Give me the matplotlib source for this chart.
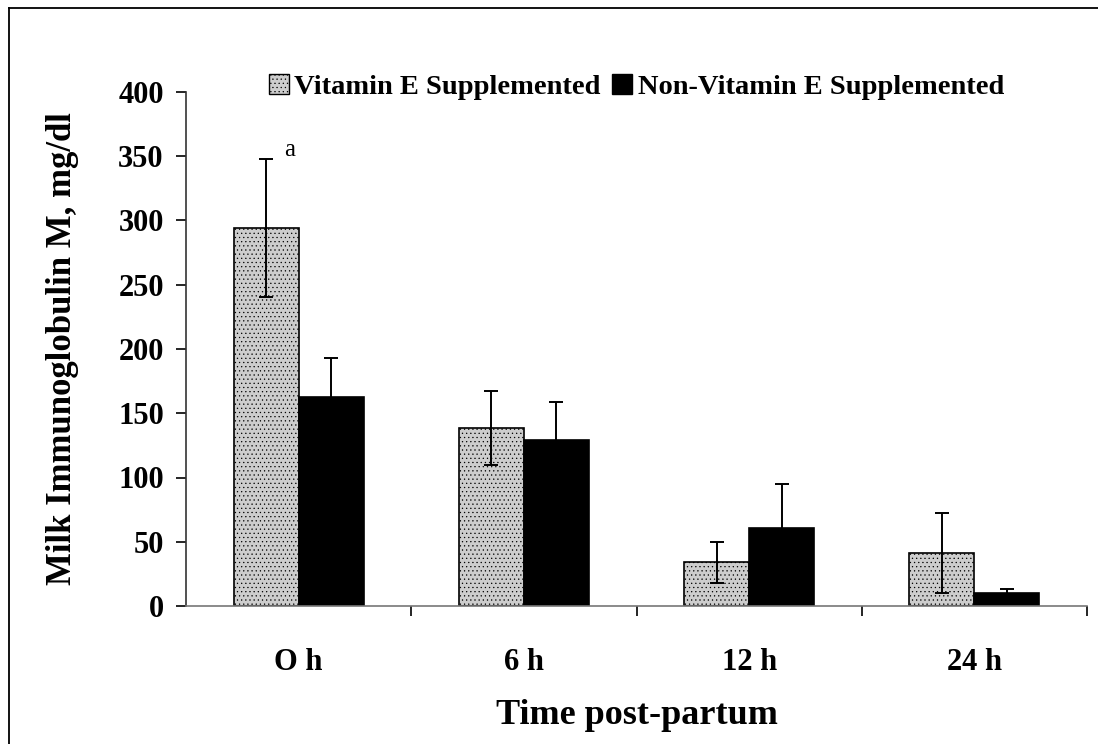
import matplotlib.pyplot as plt
import numpy as np
from matplotlib.lines import Line2D
from matplotlib.patches import Patch

plt.rcParams['font.family'] = ['Liberation Serif', 'DejaVu Serif']
plt.rcParams['hatch.color'] = '#b2b2b2'
plt.rcParams['hatch.linewidth'] = 0.4

times = ['O h', '6 h', '12 h', '24 h']
vit_e = [294, 138.5, 34, 41]
vit_e_err = [53.5, 29, 16, 31]
non_vit_e = [163, 129.5, 61, 10.5]
non_vit_e_err = [30, 29.5, 34, 3]

fig = plt.figure(figsize=(10.98, 7.44), dpi=100)
ax = fig.add_axes([186/1098, 138/744, 901/1098, 514/744])

x = np.arange(len(times))
w = 0.289
ax.bar(x - w/2, vit_e, w, color='#cdcdcd', edgecolor='black', linewidth=1.2,
       hatch='....', label='Vitamin E Supplemented', zorder=2)
ax.bar(x + w/2, non_vit_e, w, color='black', edgecolor='black', linewidth=1.2,
       label='Non-Vitamin E Supplemented', zorder=2)
ax.errorbar(x - w/2, vit_e, yerr=vit_e_err, fmt='none', ecolor='black',
            elinewidth=1.4, capsize=5, capthick=1.4, zorder=3)
ax.errorbar(x + w/2, non_vit_e, yerr=non_vit_e_err, fmt='none', ecolor='black',
            elinewidth=1.4, capsize=5, capthick=1.4, zorder=3)

# significance letter
ax.text(x[0] - w/2 + 0.106, 355, 'a', fontsize=18, ha='center', va='center')

ax.set_xlim(-0.5, 3.5)
ax.set_ylim(0, 400)
ax.set_yticks(np.arange(0, 401, 50))
ax.set_xticks(x)
ax.set_xticklabels(times)
ax.set_xticks(np.arange(0.5, 4, 1), minor=True)
ax.tick_params(axis='x', which='major', length=0, pad=30)
ax.tick_params(axis='x', which='minor', length=7, width=1.2, direction='out')
ax.tick_params(axis='y', length=7, width=1.2, direction='out', pad=9)
for lab in ax.get_xticklabels() + ax.get_yticklabels():
    lab.set_fontsize(22)
    lab.set_fontweight('bold')

ax.spines['top'].set_visible(False)
ax.spines['right'].set_visible(False)
ax.spines['left'].set_color('#333333')
ax.spines['bottom'].set_color('#777777')
ax.spines['left'].set_linewidth(1.2)
ax.spines['bottom'].set_linewidth(1.2)

ax.set_xlabel('Time post-partum', fontsize=26, fontweight='bold', labelpad=16)
ax.set_ylabel('Milk Immunoglobulin M, mg/dl', fontsize=25, fontweight='bold', labelpad=28)

handles = [Patch(facecolor='#cdcdcd', edgecolor='black', hatch='....'),
           Patch(facecolor='black', edgecolor='black')]
ax.legend(handles, ['Vitamin E Supplemented', 'Non-Vitamin E Supplemented'],
          loc='center', bbox_to_anchor=(0.50, 1.01), ncol=2, frameon=False,
          prop={'weight': 'bold', 'size': 20.5}, handlelength=0.7, handleheight=0.7,
          handletextpad=0.2, columnspacing=0.4)

# outer frame (left and top edges)
fig.add_artist(Line2D([9/1098, 9/1098], [0, 736/744], color='black', lw=1.3))
fig.add_artist(Line2D([9/1098, 1], [736/744, 736/744], color='black', lw=1.3))

fig.savefig('out.png', dpi=100)
